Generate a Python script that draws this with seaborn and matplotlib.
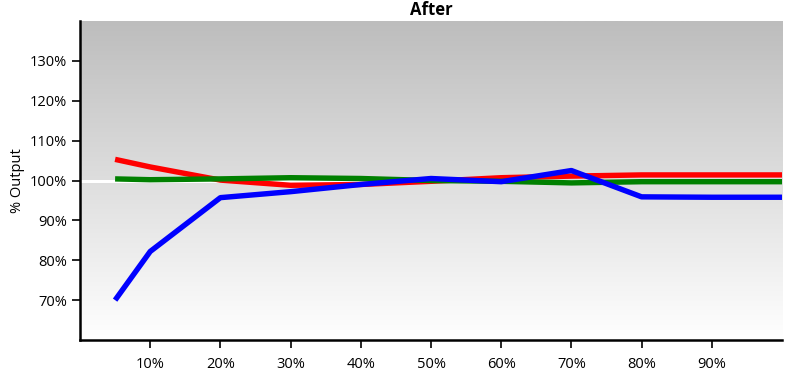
import numpy as np
import pandas as pd
import matplotlib
matplotlib.use("Agg")
import matplotlib.pyplot as plt
import seaborn as sns

# Values (x and y in percent)
x_pct = [5, 10, 20, 30, 40, 50, 60, 70, 80, 90, 100]
red_vals = [105.3, 103.4, 100.1, 98.8, 99.0, 99.8, 100.7, 101.1, 101.4, 101.4, 101.4]
green_vals = [100.4, 100.2, 100.4, 100.7, 100.5, 100.0, 99.8, 99.4, 99.7, 99.7, 99.7]
blue_vals = [70.0, 82.2, 95.7, 97.2, 99.0, 100.5, 99.7, 102.5, 95.9, 95.8, 95.8]
x_ticks = [10, 20, 30, 40, 50, 60, 70, 80, 90]
y_ticks = [70, 80, 90, 100, 110, 120, 130]

df = pd.DataFrame({
    "x": x_pct * 3,
    "y": red_vals + green_vals + blue_vals,
    "series": ["red"] * len(x_pct) + ["green"] * len(x_pct) + ["blue"] * len(x_pct),
})

sns.set_style("ticks")
plt.rcParams["font.family"] = ["Open Sans", "DejaVu Sans"]

fig = plt.figure(figsize=(8.07, 3.83), dpi=100)
ax = fig.add_axes([80 / 807, 1 - 340 / 383, 702 / 807, 319 / 383])

# vertical gray -> white gradient background
grad = np.linspace(0, 1, 256).reshape(-1, 1)
ax.imshow(grad, cmap=matplotlib.colors.LinearSegmentedColormap.from_list("bg", ["#bdbdbd", "#ffffff"]),
          aspect="auto", extent=[0, 1, 0, 1], transform=ax.transAxes, zorder=0)

ax.axhline(100, color="white", lw=2.2, zorder=1)

sns.lineplot(data=df, x="x", y="y", hue="series",
             palette={"red": "#ff0000", "green": "#008000", "blue": "#0000ff"},
             linewidth=3.9, legend=False, ax=ax, zorder=2, solid_capstyle="butt")

ax.set_xlim(0, 100)
ax.set_ylim(60, 140)
ax.set_xticks(x_ticks)
ax.set_xticklabels([f"{v}%" for v in x_ticks])
ax.set_yticks(y_ticks)
ax.set_yticklabels([f"{v}%" for v in y_ticks])
ax.tick_params(axis="both", direction="out", length=6, width=1.2, labelsize=10.5, colors="black")
ax.tick_params(axis="x", pad=6)

for side in ["top", "right"]:
    ax.spines[side].set_visible(False)
for side in ["left", "bottom"]:
    ax.spines[side].set_linewidth(1.8)
    ax.spines[side].set_color("black")

ax.set_xlabel("")
ax.set_ylabel("% Output", fontsize=10.5, labelpad=3, color="black")
ax.set_title("After", fontsize=12, fontweight="bold", pad=4, color="black")

fig.savefig("out.png", dpi=100)
